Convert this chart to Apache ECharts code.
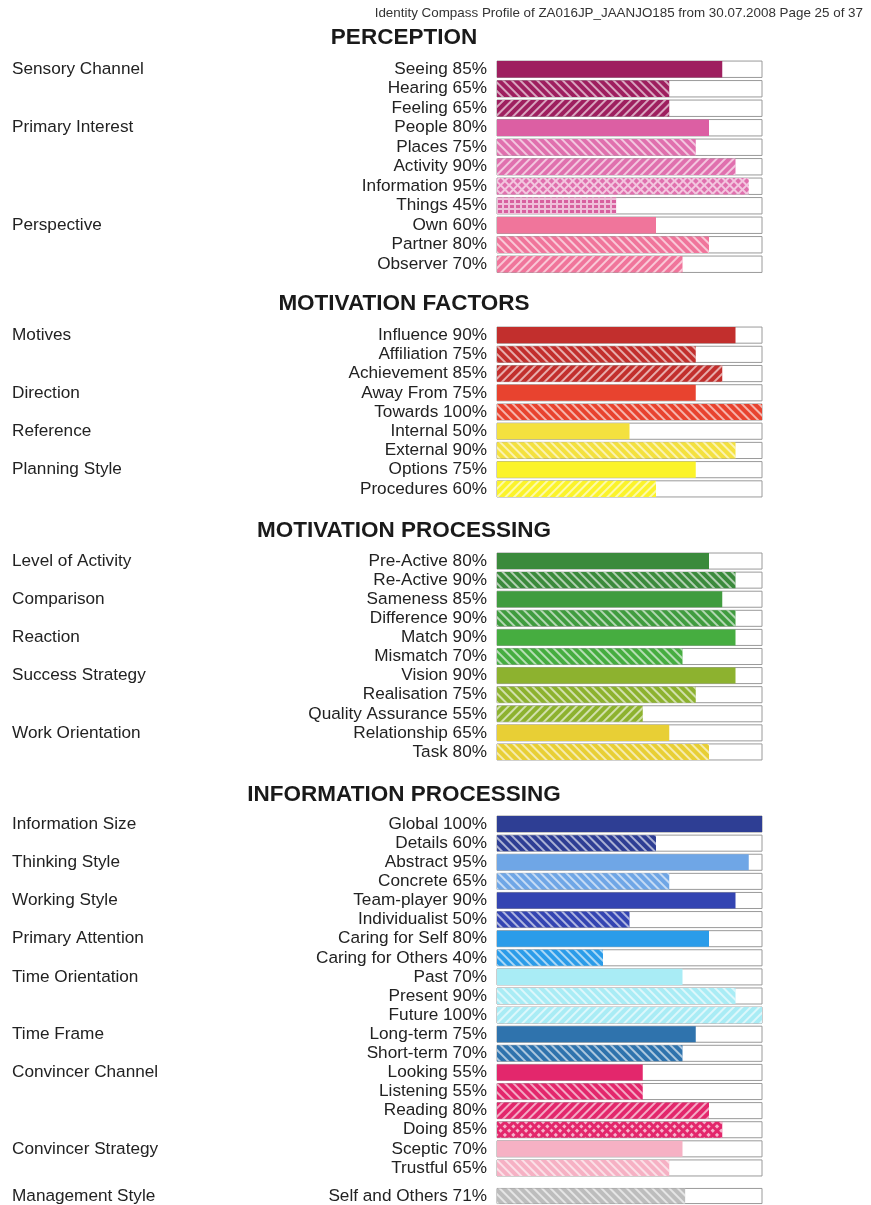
<!DOCTYPE html>
<html>
<head>
<meta charset="utf-8">
<script src="https://cdn.jsdelivr.net/npm/echarts@6/dist/echarts.min.js"></script>
<style>
html,body{margin:0;padding:0;background:#fff;}
#chart{width:871px;height:1205px;}
</style>
</head>
<body>
<div id="chart"></div>
<script>
// ---------- DATA ----------
const headerText = 'Identity Compass Profile of ZA016JP_JAANJO185 from 30.07.2008 Page 25 of 37';
const sectionTitles = ['PERCEPTION', 'MOTIVATION FACTORS', 'MOTIVATION PROCESSING', 'INFORMATION PROCESSING', ''];

const perceptionLabels = ['Seeing', 'Hearing', 'Feeling', 'People', 'Places', 'Activity', 'Information', 'Things', 'Own', 'Partner', 'Observer'];
const perceptionValues = [85, 65, 65, 80, 75, 90, 95, 45, 60, 80, 70];
const perceptionGroups = ['Sensory Channel', '', '', 'Primary Interest', '', '', '', '', 'Perspective', '', ''];

const factorsLabels = ['Influence', 'Affiliation', 'Achievement', 'Away From', 'Towards', 'Internal', 'External', 'Options', 'Procedures'];
const factorsValues = [90, 75, 85, 75, 100, 50, 90, 75, 60];
const factorsGroups = ['Motives', '', '', 'Direction', '', 'Reference', '', 'Planning Style', ''];

const processingLabels = ['Pre-Active', 'Re-Active', 'Sameness', 'Difference', 'Match', 'Mismatch', 'Vision', 'Realisation', 'Quality Assurance', 'Relationship', 'Task'];
const processingValues = [80, 90, 85, 90, 90, 70, 90, 75, 55, 65, 80];
const processingGroups = ['Level of Activity', '', 'Comparison', '', 'Reaction', '', 'Success Strategy', '', '', 'Work Orientation', ''];

const infoLabels = ['Global', 'Details', 'Abstract', 'Concrete', 'Team-player', 'Individualist', 'Caring for Self', 'Caring for Others', 'Past', 'Present', 'Future', 'Long-term', 'Short-term', 'Looking', 'Listening', 'Reading', 'Doing', 'Sceptic', 'Trustful'];
const infoValues = [100, 60, 95, 65, 90, 50, 80, 40, 70, 90, 100, 75, 70, 55, 55, 80, 85, 70, 65];
const infoGroups = ['Information Size', '', 'Thinking Style', '', 'Working Style', '', 'Primary Attention', '', 'Time Orientation', '', '', 'Time Frame', '', 'Convincer Channel', '', '', '', 'Convincer Strategy', ''];

const managementLabels = ['Self and Others'];
const managementValues = [71];
const managementGroups = ['Management Style'];

// ---------- STYLES ----------
const perceptionColors = ['#9e1f5f', '#9e1f5f', '#9e1f5f', '#dc5fa3', '#e070ae', '#e070ae', '#e070ae', '#d8609f', '#f0759b', '#f0759b', '#f0759b'];
const perceptionPatterns = ['s', 'b', 'f', 's', 'b', 'f', 'x', 'g', 's', 'b', 'f'];
const factorsColors = ['#c22f2d', '#c22f2d', '#c22f2d', '#e8432f', '#e8432f', '#f4e13f', '#f4e13f', '#fbf32a', '#fbf32a'];
const factorsPatterns = ['s', 'b', 'f', 's', 'b', 's', 'b', 's', 'f'];
const processingColors = ['#3b8a3c', '#3b8a3c', '#409c3f', '#409c3f', '#46ad40', '#46ad40', '#8db22f', '#8db22f', '#8db22f', '#e8cf35', '#e8cf35'];
const processingPatterns = ['s', 'b', 's', 'b', 's', 'b', 's', 'b', 'f', 's', 'b'];
const infoColors = ['#2e3e94', '#2e3e94', '#6fa6e6', '#6fa6e6', '#3445b2', '#3445b2', '#2b9ce9', '#2b9ce9', '#a9ecf5', '#a9ecf5', '#a9ecf5', '#2f73ad', '#2f73ad', '#e3276c', '#e3276c', '#e3276c', '#e3276c', '#f6b1c4', '#f6b1c4'];
const infoPatterns = ['s', 'b', 's', 'b', 's', 'b', 's', 'b', 's', 'b', 'f', 's', 'b', 's', 'b', 'f', 'c', 's', 'b'];
const managementColors = ['#bdbdbd'];
const managementPatterns = ['b'];

const sections = [
  {labels: perceptionLabels, values: perceptionValues, groups: perceptionGroups, colors: perceptionColors, patterns: perceptionPatterns},
  {labels: factorsLabels, values: factorsValues, groups: factorsGroups, colors: factorsColors, patterns: factorsPatterns},
  {labels: processingLabels, values: processingValues, groups: processingGroups, colors: processingColors, patterns: processingPatterns},
  {labels: infoLabels, values: infoValues, groups: infoGroups, colors: infoColors, patterns: infoPatterns},
  {labels: managementLabels, values: managementValues, groups: managementGroups, colors: managementColors, patterns: managementPatterns}
];

// ---------- LAYOUT ----------
const FONT = '"Liberation Sans", Arial, Helvetica, sans-serif';
const BAR_LEFT = 497, BAR_WIDTH = 265;
const LABEL_SIZE = 17.2;
const gridBoxes = [
  {top: 59.5, height: 214.5},
  {top: 325.5, height: 173},
  {top: 551.5, height: 210},
  {top: 814.5, height: 363},
  {top: 1187, height: 19}
];
const titleCenters = [38, 304, 531, 795];

function decalFor(p, color) {
  const W = 'rgba(255,255,255,0.6)';
  if (p === 'b') return {symbol: 'rect', symbolSize: 1, dashArrayX: [1, 0], dashArrayY: [1.8, 3.8], rotation: Math.PI / 4, color: W};
  if (p === 'f') return {symbol: 'rect', symbolSize: 1, dashArrayX: [1, 0], dashArrayY: [1.8, 3.8], rotation: -Math.PI / 4, color: W};
  if (p === 'x') return {symbol: 'rect', symbolSize: 1, dashArrayX: [4, 1.6], dashArrayY: [4, 1.6], rotation: Math.PI / 4, color: color};
  if (p === 'g') return {symbol: 'rect', symbolSize: 1, dashArrayX: [4, 1.5], dashArrayY: [3, 1.5], rotation: 0, color: color};
  if (p === 'c') return {symbol: 'rect', symbolSize: 1, dashArrayX: [2.5, 2.5], dashArrayY: [2.5, 2.5], rotation: Math.PI / 4, color: 'rgba(255,255,255,0.65)'};
  return null;
}
function lighten(hex, f) {
  const n = parseInt(hex.slice(1), 16);
  const r = (n >> 16) & 255, g = (n >> 8) & 255, b = n & 255;
  const m = c => Math.round(c + (255 - c) * f);
  return 'rgb(' + m(r) + ',' + m(g) + ',' + m(b) + ')';
}

const grids = [], xAxes = [], yAxes = [], series = [];
sections.forEach((sec, i) => {
  grids.push({left: BAR_LEFT, width: BAR_WIDTH, top: gridBoxes[i].top, height: gridBoxes[i].height, containLabel: false});
  xAxes.push({type: 'value', gridIndex: i, min: 0, max: 100, show: false});
  yAxes.push({
    type: 'category', gridIndex: i, inverse: true, position: 'left',
    data: sec.labels.map((l, k) => l + ' ' + sec.values[k] + '%'),
    axisLine: {show: false}, axisTick: {show: false}, splitLine: {show: false},
    axisLabel: {fontFamily: FONT, fontSize: LABEL_SIZE, color: '#222', margin: 10, interval: 0}
  });
  yAxes.push({
    type: 'category', gridIndex: i, inverse: true, position: 'left', offset: BAR_LEFT - 12,
    data: sec.groups,
    axisLine: {show: false}, axisTick: {show: false}, splitLine: {show: false},
    axisLabel: {fontFamily: FONT, fontSize: LABEL_SIZE, color: '#222', margin: 0, align: 'left', interval: 0}
  });
  series.push({
    type: 'bar', xAxisIndex: i, yAxisIndex: 2 * i,
    barCategoryGap: '16%',
    showBackground: true,
    backgroundStyle: {color: '#ffffff', borderColor: '#9a9a9a', borderWidth: 1},
    silent: true,
    data: sec.values.map((v, k) => {
      const p = sec.patterns[k];
      const c = sec.colors[k];
      let base = c;
      if (p === 'x' || p === 'g') base = lighten(c, 0.6);
      const item = {value: v, itemStyle: {color: base}};
      const d = decalFor(p, c);
      if (d) item.itemStyle.decal = d;
      return item;
    })
  });
});

const titles = [{
  text: headerText, right: 8, top: 7, padding: 0,
  textStyle: {fontFamily: FONT, fontSize: 13.4, fontWeight: 'normal', color: '#333'}
}];
titleCenters.forEach((cy, i) => {
  titles.push({
    text: sectionTitles[i], left: 404, textAlign: 'center', top: cy - 12, padding: 0,
    textStyle: {fontFamily: FONT, fontSize: 22.5, fontWeight: 'bold', color: '#1a1a1a'}
  });
});

const chart = echarts.init(document.getElementById('chart'), null, {renderer: 'canvas'});
chart.setOption({
  backgroundColor: '#ffffff',
  animation: false,
  title: titles,
  grid: grids,
  xAxis: xAxes,
  yAxis: yAxes,
  series: series
});
</script>
</body>
</html>
